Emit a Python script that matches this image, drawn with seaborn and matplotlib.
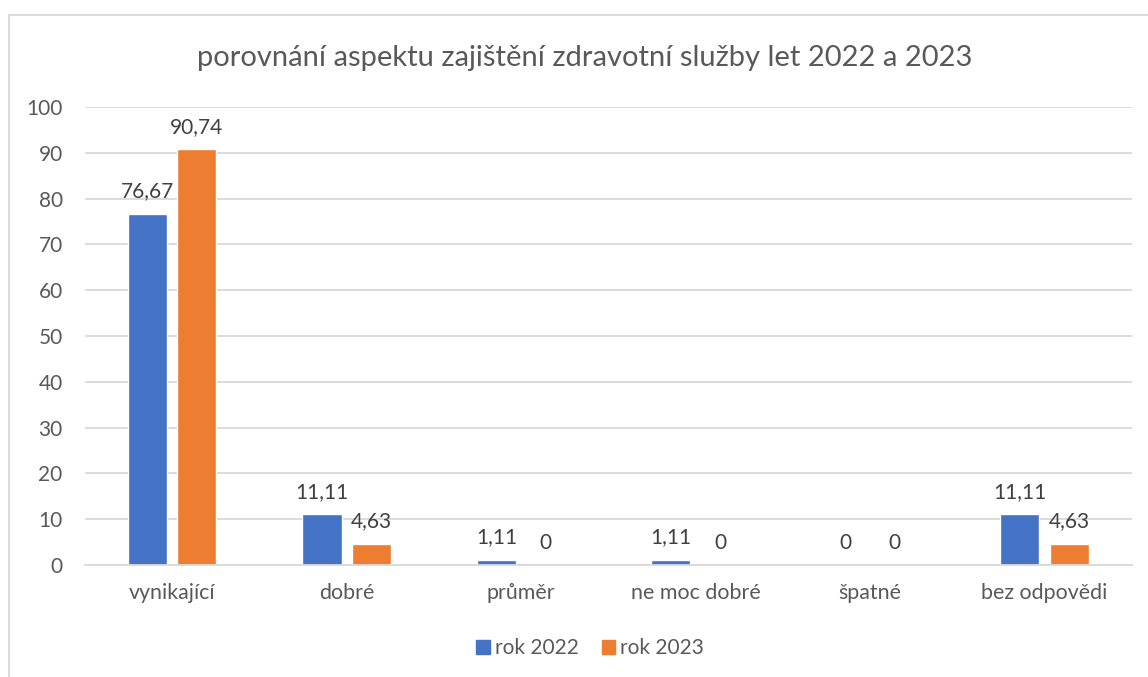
import matplotlib.pyplot as plt
import matplotlib.patches as mpatches
import seaborn as sns
import pandas as pd

categories = ['vynikající', 'dobré', 'průměr', 'ne moc dobré', 'špatné', 'bez odpovědi']
rok_2022 = [76.67, 11.11, 1.11, 1.11, 0, 11.11]
rok_2023 = [90.74, 4.63, 0, 0, 0, 4.63]
series = ['rok 2022', 'rok 2023']
colors = ['#4472C4', '#ED7D31']

df = pd.DataFrame({
    'kategorie': categories * 2,
    'hodnota': rok_2022 + rok_2023,
    'rok': [series[0]] * len(categories) + [series[1]] * len(categories),
})

sns.set_style('white')
plt.rcParams['font.family'] = ['Lato', 'DejaVu Sans']
text_color = '#595959'

fig = plt.figure(figsize=(11.48, 6.77), dpi=100)
ax = fig.add_axes([0.074, 0.1654, 0.912, 0.6766])

sns.barplot(data=df, x='kategorie', y='hodnota', hue='rok', order=categories,
            hue_order=series, palette=colors, width=0.567, gap=0.21,
            saturation=1, ax=ax, legend=False)

# data labels with decimal comma
for container in ax.containers:
    labels = [('%g' % v).replace('.', ',') for v in container.datavalues]
    ax.bar_label(container, labels=labels, padding=9, fontsize=15, color='#404040')

ax.set_ylim(0, 100)
ax.set_yticks(range(0, 101, 10))
ax.set_xlim(-0.5, len(categories) - 0.5)
ax.yaxis.grid(True, color='#D9D9D9', linewidth=1.3)
ax.set_axisbelow(True)
for s in ['top', 'right', 'left']:
    ax.spines[s].set_visible(False)
ax.spines['bottom'].set_color('#D9D9D9')
ax.spines['bottom'].set_linewidth(1.3)
ax.tick_params(axis='y', length=0, pad=16, labelsize=15, labelcolor=text_color)
ax.tick_params(axis='x', length=0, pad=13, labelsize=15.4, labelcolor=text_color)
ax.set_xlabel('')
ax.set_ylabel('')

fig.text(0.509, 0.915, 'porovnání aspektu zajištění zdravotní služby let 2022 a 2023',
         ha='center', va='center', fontsize=21, color=text_color)

handles = [mpatches.Patch(color=c, label=l) for c, l in zip(colors, series)]
fig.legend(handles=handles, loc='center', bbox_to_anchor=(0.514, 0.043), ncol=2,
           frameon=False, fontsize=15, labelcolor=text_color, handlelength=0.65,
           handleheight=0.65, handletextpad=0.25, columnspacing=1.1)

# light chart-area border, running off the right and bottom edges
border = mpatches.Rectangle((9 / 1148, -0.1), 1.2, 1 - 15 / 677 + 0.1,
                            transform=fig.transFigure, fill=False,
                            edgecolor='#D9D9D9', linewidth=1.3)
fig.patches.append(border)

fig.savefig('out.png', dpi=100)
